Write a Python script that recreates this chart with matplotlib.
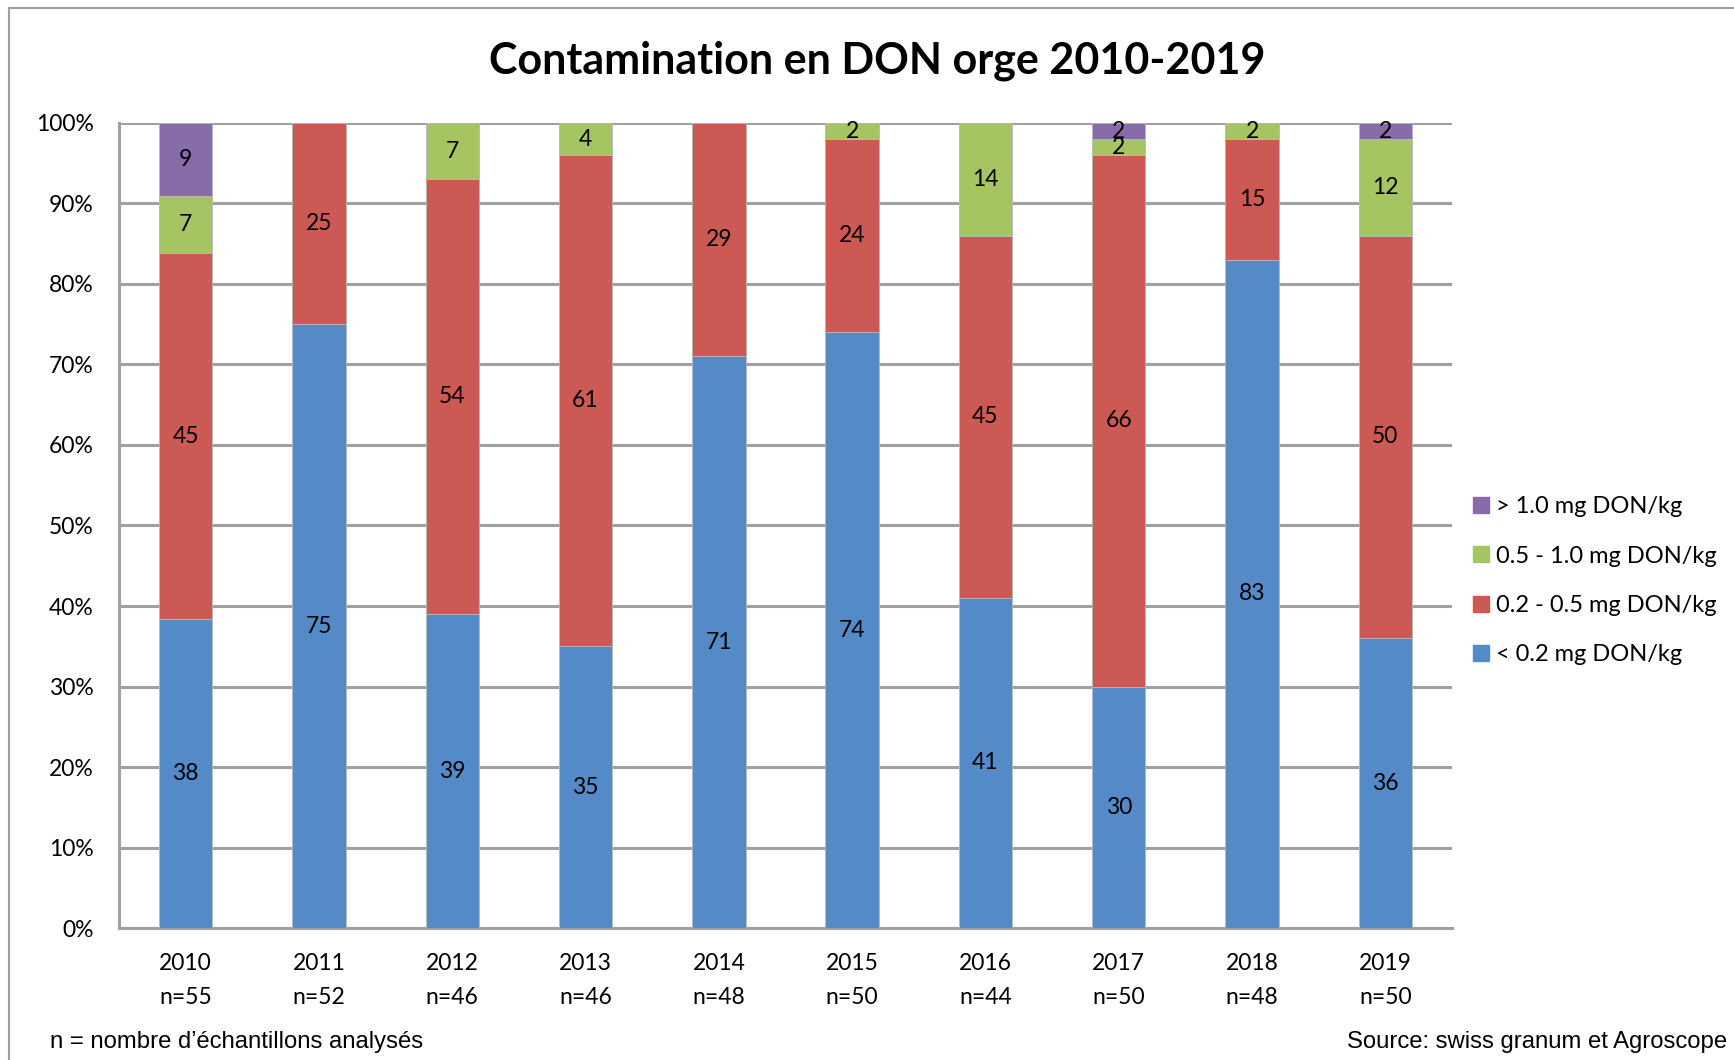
import matplotlib
matplotlib.use("Agg")
import matplotlib.pyplot as plt
from matplotlib.lines import Line2D
from matplotlib.patches import Rectangle
import numpy as np

# Data (counts shown as labels, normalised to 100 %)
years = ["2010", "2011", "2012", "2013", "2014", "2015", "2016", "2017", "2018", "2019"]
n_samples = [55, 52, 46, 46, 48, 50, 44, 50, 48, 50]
below_02 = [38, 75, 39, 35, 71, 74, 41, 30, 83, 36]
from_02_05 = [45, 25, 54, 61, 29, 24, 45, 66, 15, 50]
from_05_10 = [7, 0, 7, 4, 0, 2, 14, 2, 2, 12]
above_10 = [9, 0, 0, 0, 0, 0, 0, 2, 0, 2]

series = [
    ("< 0.2 mg DON/kg", below_02, "#558ac8"),
    ("0.2 - 0.5 mg DON/kg", from_02_05, "#cd5954"),
    ("0.5 - 1.0 mg DON/kg", from_05_10, "#a5c462"),
    ("> 1.0 mg DON/kg", above_10, "#876ca9"),
]

plt.rcParams['font.family'] = ['Lato', 'DejaVu Sans']


def plot_chart():
    fig = plt.figure(figsize=(17.34, 10.6), dpi=100)
    # outer frame of the chart
    fig.patches.append(Rectangle((0.005, -0.01), 1.2, 1.0025, transform=fig.transFigure,
                                 fill=False, edgecolor="#a0a0a0", linewidth=1.5))
    ax = fig.add_axes([0.0686, 0.1245, 0.7688, 0.7595])

    x = np.arange(len(years))
    totals = np.array([sum(v) for v in zip(*[s[1] for s in series])], dtype=float)
    bottom = np.zeros(len(years))
    for label, vals, color in series:
        vals = np.array(vals, dtype=float)
        pct = vals / totals * 100
        ax.bar(x, pct, bottom=bottom, width=0.4, color=color, label=label,
               edgecolor="#b8b8b8", linewidth=0.6, zorder=3)
        for xi, b, p, v in zip(x, bottom, pct, vals):
            if v > 0:
                ax.text(xi, b + p / 2, f"{int(v)}", ha="center", va="center",
                        fontsize=16.5, color="black", zorder=4)
        bottom += pct

    ax.set_xlim(-0.5, len(years) - 0.5)
    ax.set_ylim(0, 100)
    ax.set_yticks(np.arange(0, 101, 10))
    ax.set_yticklabels([f"{t}%" for t in range(0, 101, 10)], fontsize=16.5)
    ax.set_xticks(x)
    ax.set_xticklabels([f"{y}\nn={n}" for y, n in zip(years, n_samples)],
                       fontsize=16.5, linespacing=1.75)
    ax.tick_params(axis="y", length=0, pad=18)
    ax.tick_params(axis="x", length=0, pad=18)
    ax.grid(axis="y", color="#a0a0a0", linewidth=2.2, zorder=0)
    ax.set_axisbelow(True)
    for side in ["top", "right"]:
        ax.spines[side].set_visible(False)
    for side in ["left", "bottom"]:
        ax.spines[side].set_color("#a0a0a0")
        ax.spines[side].set_linewidth(2.2)

    fig.text(0.506, 0.943, "Contamination en DON orge 2010-2019", ha="center",
             va="center", fontsize=31, fontweight="bold")

    handles = [Line2D([], [], marker="s", linestyle="none", markersize=11,
                      markerfacecolor=c, markeredgecolor=c) for _, _, c in series[::-1]]
    labels = [l for l, _, _ in series[::-1]]
    fig.legend(handles, labels, loc="center left", bbox_to_anchor=(0.8425, 0.452),
               frameon=False, fontsize=17, handlelength=0.7, handletextpad=0.3,
               labelspacing=1.2, borderpad=0)

    fig.text(0.029, 0.017, "n = nombre d\u2019\u00e9chantillons analys\u00e9s",
             fontsize=17.2, family=["Liberation Sans", "DejaVu Sans"], va="center")
    fig.text(0.996, 0.017, "Source: swiss granum et Agroscope", ha="right",
             fontsize=17.2, family=["Liberation Sans", "DejaVu Sans"], va="center")

    fig.savefig("out.png", dpi=100)


if __name__ == "__main__":
    plot_chart()
